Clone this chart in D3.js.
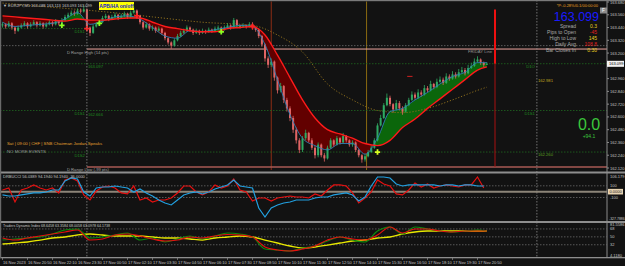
<!DOCTYPE html>
<html>
<head>
<meta charset="utf-8">
<script src="https://cdn.jsdelivr.net/npm/d3@7"></script>
<style>
  html, body { margin: 0; padding: 0; background: #121212; }
  svg { display: block; font-family: "Liberation Sans", "DejaVu Sans", sans-serif; }
</style>
</head>
<body>
<div id="chart"></div>
<script>
// candle data, EURJPY 10 min bars (open = previous close)
const firstOpen = 163.46;
const closes = [
  163.47,163.45,163.48,163.44,163.41,163.44,163.46,163.48,163.45,163.47,
  163.49,163.46,163.48,163.45,163.47,163.49,163.47,163.50,163.48,163.51,
  163.54,163.56,163.58,163.57,163.60,163.59,163.61,163.44,163.39,163.45,
  163.47,163.49,163.53,163.55,163.52,163.54,163.56,163.53,163.55,163.57,
  163.54,163.58,163.60,163.55,163.49,163.44,163.47,163.43,163.44,163.41,
  163.43,163.39,163.34,163.30,163.27,163.32,163.36,163.39,163.41,163.44,
  163.42,163.39,163.41,163.39,163.41,163.40,163.42,163.41,163.43,163.44,
  163.42,163.44,163.46,163.44,163.51,163.46,163.45,163.46,163.45,163.47,
  163.44,163.42,163.36,163.28,163.15,163.09,163.12,162.97,162.85,162.89,
  162.76,162.68,162.59,162.48,162.38,162.29,162.40,162.45,162.38,162.31,
  162.24,162.34,162.24,162.21,162.31,162.38,162.34,162.40,162.36,162.42,
  162.38,162.34,162.36,162.29,162.24,162.20,162.23,162.27,162.31,162.38,
  162.52,162.59,162.71,162.78,162.72,162.67,162.73,162.68,162.65,162.71,
  162.76,162.81,162.78,162.83,162.81,162.87,162.85,162.91,162.88,162.93,
  162.95,162.92,162.98,162.96,163.00,162.98,163.02,163.04,163.01,163.06,
  163.08,163.12,163.14,163.11,163.09,163.099
];
const highs = [
  163.49,163.48,163.50,163.49,163.45,163.46,163.48,163.50,163.49,163.49,
  163.51,163.50,163.50,163.49,163.49,163.51,163.50,163.52,163.51,163.53,
  163.56,163.58,163.60,163.60,163.62,163.62,163.64,163.62,163.45,163.47,
  163.49,163.51,163.55,163.57,163.56,163.56,163.58,163.57,163.57,163.59,
  163.58,163.60,163.63,163.61,163.56,163.50,163.49,163.48,163.46,163.45,
  163.45,163.44,163.40,163.35,163.31,163.34,163.38,163.41,163.43,163.46,
  163.45,163.43,163.43,163.42,163.43,163.42,163.44,163.43,163.45,163.46,
  163.45,163.46,163.48,163.47,163.53,163.52,163.47,163.48,163.47,163.49,
  163.49,163.45,163.43,163.37,163.29,163.17,163.15,163.13,162.98,162.92,
  162.90,162.78,162.70,162.61,162.50,162.40,162.42,162.48,162.46,162.40,
  162.33,162.36,162.35,162.26,162.33,162.40,162.39,162.42,162.41,162.45,
  162.43,162.39,162.38,162.37,162.30,162.25,162.25,162.29,162.33,162.40,
  162.54,162.62,162.73,162.82,162.80,162.73,162.76,162.75,162.70,162.73,
  162.78,162.84,162.83,162.86,162.85,162.90,162.89,162.94,162.92,162.96,
  162.98,162.97,163.01,163.00,163.03,163.02,163.05,163.07,163.06,163.09,
  163.11,163.15,163.17,163.15,163.12,163.113
];
const lows = [
  163.44,163.43,163.44,163.42,163.38,163.40,163.43,163.45,163.43,163.44,
  163.46,163.44,163.45,163.43,163.44,163.46,163.45,163.46,163.46,163.47,
  163.50,163.53,163.55,163.55,163.56,163.57,163.58,163.41,163.36,163.38,
  163.44,163.46,163.48,163.52,163.50,163.51,163.53,163.51,163.52,163.54,
  163.52,163.53,163.57,163.53,163.47,163.42,163.43,163.41,163.41,163.39,
  163.40,163.37,163.32,163.28,163.24,163.26,163.31,163.35,163.38,163.40,
  163.40,163.37,163.38,163.37,163.38,163.38,163.39,163.39,163.40,163.42,
  163.40,163.41,163.43,163.42,163.43,163.44,163.43,163.44,163.43,163.44,
  163.42,163.40,163.34,163.26,163.12,163.06,163.07,162.94,162.82,162.83,
  162.73,162.65,162.56,162.45,162.35,162.26,162.27,162.38,162.36,162.29,
  162.21,162.22,162.22,162.18,162.20,162.30,162.32,162.33,162.34,162.35,
  162.36,162.32,162.32,162.27,162.22,162.17,162.18,162.22,162.26,162.30,
  162.37,162.51,162.58,162.70,162.70,162.64,162.66,162.66,162.62,162.64,
  162.70,162.75,162.76,162.77,162.79,162.80,162.83,162.84,162.86,162.87,
  162.92,162.90,162.91,162.94,162.95,162.96,162.97,163.01,162.99,163.00,
  163.05,163.07,163.11,163.09,163.07,163.088
];

// moving averages, sampled every 4 bars
const sampleIdx = [0,4,8,12,16,20,24,28,32,36,40,44,48,52,56,60,64,68,72,76,80,84,88,92,96,100,104,108,112,116,120,124,128,132,136,140,144,148,152,155];
const slowMA = [163.55,163.54,163.53,163.52,163.51,163.50,163.52,163.51,163.51,163.52,163.53,163.53,163.49,163.45,163.43,163.41,163.40,163.40,163.43,163.44,163.45,163.37,163.18,162.97,162.76,162.59,162.48,162.44,162.40,162.35,162.33,162.38,162.50,162.58,162.68,162.77,162.86,162.95,163.04,163.07];
const fastMA = [163.49,163.45,163.46,163.47,163.48,163.52,163.58,163.47,163.50,163.54,163.55,163.52,163.44,163.36,163.34,163.41,163.40,163.42,163.44,163.46,163.45,163.28,162.95,162.62,162.40,162.33,162.29,162.35,162.35,162.25,162.40,162.65,162.68,162.76,162.83,162.91,162.98,163.02,163.11,163.11];
const longIdx = [0,16,32,48,64,80,88,96,104,112,120,128,136,144,152,155];
const longMA = [163.67,163.63,163.59,163.54,163.49,163.46,163.37,163.21,162.91,162.76,162.66,162.64,162.68,162.76,162.85,162.88];

// arrows
const buyIdx = [19, 31, 70, 120];
const buyPrice = [163.46, 163.48, 163.40, 162.27];
const sellIdx = [27, 43, 80];
const sellPrice = [163.43, 163.55, 163.45];

// levels
const priceTicks = [163.68,163.56,163.44,163.32,163.20,163.08,162.96,162.84,162.72,162.60,162.48,162.36,162.24,162.12];
const lastPrice = 163.099;
const dRangeHigh = 163.238, dRangeLow = 162.13, weekLine = 163.27;
const prevPivot = 163.43;
const pivotPrices = [163.10, 162.66, 162.27];
const daySepIdx = [27, 171];
const sessionIdx = [86, 116.5];
const redBarIdx = 157.6;
const redBarPrices = [163.61, 163.10, 162.13];

// time axis
const timeLabels = ["16 Nov 2023","16 Nov 20:50","16 Nov 22:10","16 Nov 23:30","17 Nov 00:50","17 Nov 02:10","17 Nov 03:30","17 Nov 04:50","17 Nov 06:10","17 Nov 07:30","17 Nov 08:50","17 Nov 10:10","17 Nov 11:30","17 Nov 12:50","17 Nov 14:10","17 Nov 15:30","17 Nov 16:50","17 Nov 18:10","17 Nov 19:30","17 Nov 20:50"];

// CCI panel, every 2 bars
const cciRed = [29,63,-176,29,63,115,63,29,63,-22,200,234,183,-56,-142,12,80,97,63,-22,-39,97,-142,-108,-176,-142,-142,-108,-22,97,97,-5,-56,-5,115,63,97,217,29,-5,-159,-108,-108,-159,-108,-91,-74,-91,-91,-108,-39,-74,29,115,115,97,-22,-193,-108,-5,200,132,97,-39,-56,29,149,80,132,63,97,115,97,80,115,115,251,63];
const cciBlue = [-56,-74,-74,-56,-39,-22,-22,-5,29,29,183,234,217,-5,-74,63,80,80,97,80,63,-5,46,-22,-74,-142,-193,-227,-142,-56,-22,-5,-39,-5,46,80,115,200,97,80,63,-279,-433,-279,-227,-193,-176,-142,-142,-142,-108,-91,-91,-56,-39,-22,-56,-159,-91,97,251,251,234,132,97,115,115,115,115,115,97,115,115,97,115,115,97,97];
const cciLevels = [100, -100];

// TDI panel, same samples as the MAs
const tdiGreen = [42.8,45.1,47.4,49.7,56.5,65.6,67.9,47.4,49.7,54.2,58.8,42.8,47.4,38.3,45.1,52.0,45.1,52.0,58.8,56.5,49.7,22.3,20.1,17.8,24.6,29.2,40.6,49.7,42.8,38.3,63.3,72.5,56.5,72.5,67.9,63.3,61.1,63.3,65.6,63.3];
const tdiRed = [47.4,42.8,47.4,52.0,56.5,61.1,65.6,42.8,45.1,54.2,56.5,52.0,45.1,40.6,42.8,49.7,47.4,52.0,55.4,54.2,49.7,26.9,20.1,17.8,22.3,29.2,42.8,49.7,45.1,42.8,54.2,72.5,58.8,67.9,67.9,63.3,61.1,63.3,63.3,63.3];
const tdiYellow = [33.7,36.0,38.3,42.8,47.4,49.7,54.2,56.5,54.2,52.0,52.0,52.0,49.7,47.4,47.4,45.1,42.8,47.4,49.7,52.0,49.7,42.8,36.0,29.2,24.6,26.9,31.4,36.0,40.6,42.8,47.4,49.7,56.5,61.1,63.3,63.3,63.3,63.3,63.3,63.3];
const tdiTicks = [81.5586, 68, 50, 32, 4.118];
const tdiTickText = ["81.5586", "68", "50", "32", "4.1180"];

// ---------------------------------------------------------------
const width = 625, height = 266, axisX = 607;

const svg = d3.select("#chart").append("svg")
    .attr("width", width)
    .attr("height", height);

svg.append("rect").attr("width", width).attr("height", height).attr("fill", "#121212");

// scales: bar index -> x, one y scale per panel
const x = d3.scaleLinear().domain([0, 192]).range([2.5, 602.5]);
const y = d3.scaleLinear().domain([162.12, 163.68]).range([168, 2]);
const yCci = d3.scaleLinear().domain([-450, 268]).range([218, 176]);
const yTdi = d3.scaleLinear().domain([4.118, 81.5586]).range([257, 223]);

const defs = svg.append("defs");
const clip = (id, y0, h) => defs.append("clipPath").attr("id", id)
    .append("rect").attr("x", 0).attr("y", y0).attr("width", axisX).attr("height", h);
clip("mainClip", 1.5, 169);
clip("cciClip", 173.5, 47.5);
clip("tdiClip", 223, 34);

const main = svg.append("g").attr("clip-path", "url(#mainClip)");

// day separators (dotted, whole height)
daySepIdx.forEach(i => {
  svg.append("line")
    .attr("x1", x(i)).attr("x2", x(i)).attr("y1", 0).attr("y2", 257)
    .attr("stroke", "#8a8a8a").attr("stroke-width", 0.8).attr("stroke-dasharray", "1.5,1.5");
});

// session lines
const sessionColors = ["#8c2d14", "#8a6a10"];
sessionIdx.forEach((i, k) => {
  main.append("line")
    .attr("x1", x(i)).attr("x2", x(i)).attr("y1", 0).attr("y2", 170)
    .attr("stroke", sessionColors[k]).attr("stroke-width", 1);
});

// horizontal level lines
main.append("line")
  .attr("x1", 0).attr("x2", axisX).attr("y1", y(weekLine)).attr("y2", y(weekLine))
  .attr("stroke", "#6c6c6c").attr("stroke-width", 0.8).attr("stroke-dasharray", "1.5,1.5");
main.append("line")
  .attr("x1", x(daySepIdx[0])).attr("x2", axisX).attr("y1", y(dRangeHigh)).attr("y2", y(dRangeHigh))
  .attr("stroke", "#f0a8a0").attr("stroke-width", 1);
main.append("line")
  .attr("x1", x(daySepIdx[0])).attr("x2", axisX).attr("y1", y(dRangeLow)).attr("y2", y(dRangeLow))
  .attr("stroke", "#a85a55").attr("stroke-width", 1.6);
main.append("line")
  .attr("x1", 0).attr("x2", x(daySepIdx[0])).attr("y1", y(prevPivot)).attr("y2", y(prevPivot))
  .attr("stroke", "#1f6a1f").attr("stroke-width", 0.8).attr("stroke-dasharray", "1.5,1.5");
pivotPrices.forEach(p => {
  main.append("line")
    .attr("x1", 0).attr("x2", axisX).attr("y1", y(p)).attr("y2", y(p))
    .attr("stroke", "#1f6a1f").attr("stroke-width", 0.8).attr("stroke-dasharray", "1.5,1.5");
});

// MA band: green where fast above slow, dark red where below
const maPts = sampleIdx.map((i, k) => ({ i, slow: slowMA[k], fast: fastMA[k] }));
const curve = d3.curveMonotoneX;
defs.append("clipPath").attr("id", "aboveSlow").append("path")
  .attr("d", d3.area().x(d => x(d.i)).y0(0).y1(d => y(d.slow)).curve(curve)(maPts));
defs.append("clipPath").attr("id", "belowSlow").append("path")
  .attr("d", d3.area().x(d => x(d.i)).y0(d => y(d.slow)).y1(175).curve(curve)(maPts));
const band = d3.area().x(d => x(d.i)).y0(d => y(d.slow)).y1(d => y(d.fast)).curve(curve);
main.append("path").attr("d", band(maPts)).attr("fill", "#0b660b").attr("clip-path", "url(#aboveSlow)");
main.append("path").attr("d", band(maPts)).attr("fill", "#620000").attr("clip-path", "url(#belowSlow)");

// long MA (dotted)
const longPts = longIdx.map((i, k) => ({ i, v: longMA[k] }));
main.append("path")
  .attr("d", d3.line().x(d => x(d.i)).y(d => y(d.v)).curve(curve)(longPts))
  .attr("fill", "none").attr("stroke", "#8c6e1e").attr("stroke-width", 1).attr("stroke-dasharray", "1.2,1.8");

// candles
const candles = closes.map((c, i) => ({
  i, o: i === 0 ? firstOpen : closes[i - 1], h: highs[i], l: lows[i], c
}));
const candleG = main.append("g");
candleG.selectAll("line.wick")
  .data(candles)
  .enter().append("line")
  .attr("x1", d => x(d.i)).attr("x2", d => x(d.i))
  .attr("y1", d => y(d.h)).attr("y2", d => y(d.l))
  .attr("stroke", d => d.c >= d.o ? "#2eaa62" : "#e06464")
  .attr("stroke-width", 0.8);
candleG.selectAll("rect.body")
  .data(candles)
  .enter().append("rect")
  .attr("x", d => x(d.i) - 1)
  .attr("y", d => y(Math.max(d.o, d.c)))
  .attr("width", 2)
  .attr("height", d => Math.max(0.8, Math.abs(y(d.o) - y(d.c))))
  .attr("fill", d => d.c >= d.o ? "#2eaa62" : "#e06464");

// MA lines
main.append("path")
  .attr("d", d3.line().x(d => x(d.i)).y(d => y(d.fast)).curve(curve)(maPts))
  .attr("fill", "none").attr("stroke", "#2f7fb5").attr("stroke-width", 0.9);
main.append("path")
  .attr("d", d3.line().x(d => x(d.i)).y(d => y(d.slow)).curve(curve)(maPts))
  .attr("fill", "none").attr("stroke", "#ff1a1a").attr("stroke-width", 1.4);

// arrows as crosses
const cross = d3.symbol().type(d3.symbolCross).size(16);
buyIdx.forEach((i, k) => {
  main.append("path").attr("d", cross())
    .attr("transform", `translate(${x(i)},${y(buyPrice[k])})`)
    .attr("fill", k === 3 ? "#d8ff20" : "#8cff20");
});
sellIdx.forEach((i, k) => {
  main.append("path").attr("d", cross())
    .attr("transform", `translate(${x(i)},${y(sellPrice[k])})`)
    .attr("fill", "#ff2020");
});

// red countdown bar
svg.append("line")
  .attr("x1", x(redBarIdx)).attr("x2", x(redBarIdx))
  .attr("y1", y(redBarPrices[0])).attr("y2", y(redBarPrices[1]))
  .attr("stroke", "#ee1010").attr("stroke-width", 2);
svg.append("line")
  .attr("x1", x(redBarIdx)).attr("x2", x(redBarIdx))
  .attr("y1", y(redBarPrices[1])).attr("y2", y(redBarPrices[2]))
  .attr("stroke", "#a81010").attr("stroke-width", 1);
svg.append("line")
  .attr("x1", x(129.5)).attr("x2", x(131.2)).attr("y1", y(162.981)).attr("y2", y(162.981))
  .attr("stroke", "#d02020").attr("stroke-width", 1);

// text helper
const txt = (g, tx, ty, s, size, color, anchor) => g.append("text")
  .attr("x", tx).attr("y", ty).text(s)
  .attr("font-size", size).attr("fill", color)
  .attr("text-anchor", anchor || "start");

// labels in the main panel
const sepL = x(daySepIdx[0]), sepR = x(daySepIdx[1]);
txt(svg, 3, 6.5, "\u25BC EURJPY,M5  163.088 163.113 163.093 163.099", 4, "#c8c8c8");
svg.append("rect").attr("x", 99).attr("y", 2).attr("width", 35).attr("height", 8).attr("fill", "#ffff00");
txt(svg, 116.5, 7.8, "APB/HA on/off", 5, "#1020d0", "middle").attr("font-weight", "bold");
txt(svg, sepL - 20, y(dRangeHigh) + 4.5, "D Range High (14 pts)", 4.2, "#a0a0a0");
txt(svg, 468, y(dRangeHigh) + 4, "FRIDAY Line", 4.2, "#909090");
txt(svg, sepL - 20, 171, "D Range Low (-99 pts)", 4.2, "#a0a0a0");
txt(svg, sepL - 2, y(prevPivot) + 4.5, "D1S1", 4.2, "#1f8a1f", "end");
txt(svg, sepL + 1, y(pivotPrices[0]) + 4.5, "163.097", 4.2, "#1f8a1f");
txt(svg, sepL - 2, y(pivotPrices[1]) + 4.5, "D1S1", 4.2, "#1f8a1f", "end");
txt(svg, sepL + 1, y(pivotPrices[1]) + 5, "162.666", 4.2, "#1f8a1f");
txt(svg, sepL - 2, y(pivotPrices[2]) + 4.5, "D1S2", 4.2, "#1f8a1f", "end");
txt(svg, sepR - 2, y(pivotPrices[0]) + 4.5, "D1O", 4.2, "#1f8a1f", "end");
txt(svg, sepR - 2, y(pivotPrices[1]) + 4.5, "D1S1", 4.2, "#1f8a1f", "end");
txt(svg, sepR + 1, y(162.981) + 5.5, "162.981", 4.2, "#c0a820");
txt(svg, sepR + 1, y(pivotPrices[2]) + 4, "162.260", 4.2, "#5aa020");
txt(svg, 7, 144.5, "Sat | 09:00 | CHF | SNB Chairman Jordan Speaks", 4.3, "#e0a030");
txt(svg, 7, 152.5, "NO MORE EVENTS", 4.3, "#9a9a9a");

// info block top right
txt(svg, 598, 6.5, "*P:-0.28%/0.1/00:00:00", 4, "#e8a020", "end");
svg.append("rect").attr("x", 600).attr("y", 7.5).attr("width", 7).attr("height", 6).attr("fill", "#8c8c8c");
txt(svg, 603.5, 12.2, "F", 4.6, "#ffffff", "middle");
txt(svg, 599, 20.5, "163.099", 12.5, "#1a1aff", "end");
const infoNames = ["Spread", "Pips to Open", "High to Low", "Daily Avg", "Bar Closes In"];
const infoValues = ["0.3", "-45", "145", "108.8", "0:30"];
const infoColors = ["#e8d020", "#e02020", "#e8d020", "#e02020", "#e8d020"];
infoNames.forEach((n, k) => {
  txt(svg, 576, 28 + 6 * k, n, 5, "#a8a8a8", "end");
  txt(svg, 597, 28 + 6 * k, infoValues[k], 5, infoColors[k], "end");
});
txt(svg, 589, 130, "0.0", 16, "#3cc83c", "middle");
txt(svg, 589, 138, "+94.1", 5, "#3cc83c", "middle");

// price axis (the tick under the last-price box stays hidden, as in MT4)
svg.append("line").attr("x1", axisX).attr("x2", axisX).attr("y1", 0).attr("y2", 258)
  .attr("stroke", "#8a8a8a").attr("stroke-width", 1);
priceTicks.forEach(p => {
  svg.append("line").attr("x1", axisX).attr("x2", axisX + 2).attr("y1", y(p)).attr("y2", y(p)).attr("stroke", "#8a8a8a");
  if (Math.abs(y(p) - y(lastPrice)) > 5) txt(svg, 610, y(p) + 1.5, p.toFixed(3), 4, "#c4c4c4");
});
svg.append("rect").attr("x", axisX).attr("y", y(lastPrice) - 3).attr("width", 17).attr("height", 6).attr("fill", "#f2f2f2");
txt(svg, 609, y(lastPrice) + 1.5, lastPrice.toFixed(3), 4, "#000000");

// CCI panel
const cci = svg.append("g").attr("clip-path", "url(#cciClip)");
cciLevels.forEach(v => {
  cci.append("line").attr("x1", 0).attr("x2", axisX).attr("y1", yCci(v)).attr("y2", yCci(v))
    .attr("stroke", "#6a6a6a").attr("stroke-width", 0.8).attr("stroke-dasharray", "1.5,1.5");
});
cci.append("line").attr("x1", 0).attr("x2", axisX).attr("y1", yCci(0)).attr("y2", yCci(0))
  .attr("stroke", "#8c8578").attr("stroke-width", 2);
const cciLine = d3.line().x((d, k) => x(2 * k)).y(d => yCci(d));
cci.append("path").attr("d", cciLine(cciRed)).attr("fill", "none").attr("stroke", "#e51010").attr("stroke-width", 1.2);
cci.append("path").attr("d", cciLine(cciBlue)).attr("fill", "none").attr("stroke", "#22a0e0").attr("stroke-width", 1.2);
txt(svg, 3, 177.5, "DRBUCCI 56.0389 94.1940 94.1940 -36.0000", 4, "#c4c4c4");
txt(svg, 610, yCci(yCci.domain()[1]) + 1.5, "106.179", 4, "#c4c4c4");
txt(svg, 610, yCci(100) + 1.5, "100", 4, "#c4c4c4");
txt(svg, 610, yCci(-100) + 1.5, "-100", 4, "#c4c4c4");
txt(svg, 609, yCci(yCci.domain()[0]) + 1.5, "-327.7886", 3.5, "#c4c4c4");
svg.append("rect").attr("x", axisX + 1).attr("y", yCci(0) - 2.8).attr("width", 15).attr("height", 5.6).attr("fill", "#e6d2b0");
txt(svg, 609.5, yCci(0) + 1.5, "0.0000", 4, "#202020");

// TDI panel
const tdi = svg.append("g").attr("clip-path", "url(#tdiClip)");
[68, 50, 32].forEach(v => {
  tdi.append("line").attr("x1", 0).attr("x2", axisX).attr("y1", yTdi(v)).attr("y2", yTdi(v))
    .attr("stroke", "#6a6a6a").attr("stroke-width", 0.8).attr("stroke-dasharray", "1.5,1.5");
});
const tdiLine = d3.line().x((d, k) => x(sampleIdx[k])).y(d => yTdi(d)).curve(curve);
tdi.append("path").attr("d", tdiLine(tdiYellow)).attr("fill", "none").attr("stroke", "#e8e800").attr("stroke-width", 1.3);
tdi.append("path").attr("d", tdiLine(tdiGreen)).attr("fill", "none").attr("stroke", "#0c8c0c").attr("stroke-width", 1.2);
tdi.append("path").attr("d", tdiLine(tdiRed)).attr("fill", "none").attr("stroke", "#e51010").attr("stroke-width", 1.2);
txt(svg, 3, 227, "Traders Dynamic Index 68.6458 63.3584 68.0058 63.0978 64.1738", 3.6, "#c4c4c4");
tdiTicks.forEach((v, k) => {
  txt(svg, 610, Math.min(256.5, Math.max(225.5, yTdi(v) + 1.5)), tdiTickText[k], 4, "#c4c4c4");
});

// separators
svg.append("rect").attr("x", 0).attr("y", 0).attr("width", width).attr("height", 1.2).attr("fill", "#7a7a7a");
svg.append("rect").attr("x", 0).attr("y", 171.5).attr("width", width).attr("height", 2).attr("fill", "#8e8e8e");
svg.append("rect").attr("x", 0).attr("y", 221).attr("width", width).attr("height", 2).attr("fill", "#8e8e8e");
svg.append("rect").attr("x", 0).attr("y", 257).attr("width", width).attr("height", 1.3).attr("fill", "#8e8e8e");
svg.append("rect").attr("x", 0).attr("y", 0).attr("width", 1.2).attr("height", 258).attr("fill", "#6a6a6a");

// time axis
timeLabels.forEach((t, k) => {
  const tx = x(8 * k);
  svg.append("line").attr("x1", tx).attr("x2", tx).attr("y1", 258).attr("y2", 260)
    .attr("stroke", "#9a9a9a").attr("stroke-width", 0.6);
  txt(svg, tx + 0.5, 263.5, t, 4, "#c4c4c4");
});
</script>
</body>
</html>
